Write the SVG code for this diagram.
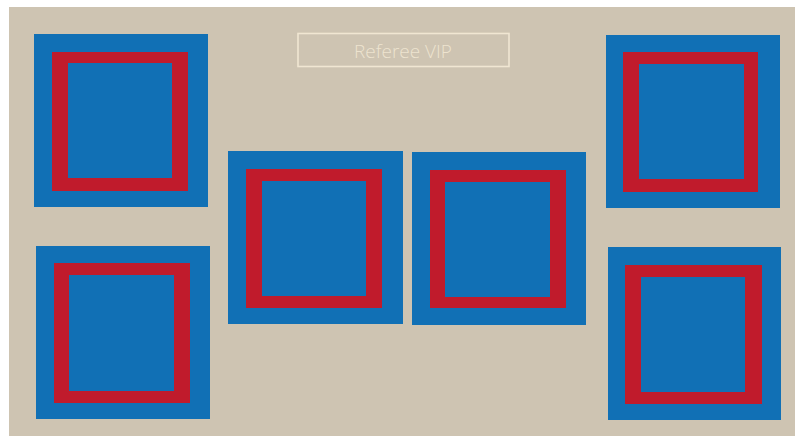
<svg xmlns="http://www.w3.org/2000/svg" width="795" height="436" viewBox="0 0 795 436">
<style>
.bg{fill:#cec4b2}
.blue{fill:#1170b5}
.red{fill:#c01b2c}
.label{fill:none;stroke:#f0e6d2;stroke-width:1.6}
.txt{font-family:"Open Sans","Liberation Sans",sans-serif;font-weight:300;font-size:19px;fill:#ede3cf;text-anchor:middle}
</style>
<rect width="795" height="436" fill="#ffffff"/>
<rect class="bg" x="9" y="7" width="786" height="429"/>
<g id="label">
<rect class="label" x="298" y="33.5" width="211" height="33"/>
<text class="txt" x="403" y="58">Referee VIP</text>
</g>
<g id="court-top-left">
<rect class="blue" x="34" y="34" width="174" height="173"/>
<rect class="red" x="52" y="52" width="136" height="139"/>
<rect class="blue" x="68" y="63" width="104" height="115"/>
</g>
<g id="court-bottom-left">
<rect class="blue" x="36" y="246" width="174" height="173"/>
<rect class="red" x="54" y="263" width="136" height="140"/>
<rect class="blue" x="69" y="275" width="105" height="116"/>
</g>
<g id="court-center-left">
<rect class="blue" x="228" y="151" width="175" height="173"/>
<rect class="red" x="246" y="169" width="136" height="139"/>
<rect class="blue" x="262" y="181" width="104" height="115"/>
</g>
<g id="court-center-right">
<rect class="blue" x="412" y="152" width="174" height="173"/>
<rect class="red" x="430" y="170" width="136" height="138"/>
<rect class="blue" x="445" y="182" width="105" height="115"/>
</g>
<g id="court-top-right">
<rect class="blue" x="606" y="35" width="174" height="173"/>
<rect class="red" x="623" y="52" width="135" height="140"/>
<rect class="blue" x="639" y="64" width="105" height="115"/>
</g>
<g id="court-bottom-right">
<rect class="blue" x="608" y="247" width="173" height="173"/>
<rect class="red" x="625" y="265" width="137" height="139"/>
<rect class="blue" x="641" y="277" width="104" height="115"/>
</g>
<g id="connectors"></g>
</svg>
